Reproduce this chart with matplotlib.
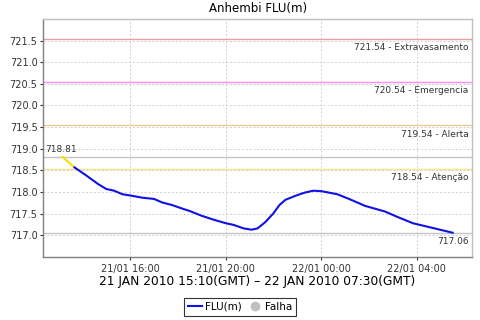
import matplotlib
matplotlib.use("Agg")
import matplotlib.pyplot as plt
import matplotlib.dates as mdates
from matplotlib.lines import Line2D
from datetime import datetime, timedelta

times = ["21/01 13:10", "21/01 13:40", "21/01 14:10", "21/01 14:40", "21/01 15:00",
         "21/01 15:20", "21/01 15:40", "21/01 16:00", "21/01 16:30", "21/01 17:00",
         "21/01 17:20", "21/01 17:45", "21/01 18:10", "21/01 18:30", "21/01 19:00",
         "21/01 19:30", "21/01 20:00", "21/01 20:20", "21/01 20:45", "21/01 21:05",
         "21/01 21:20", "21/01 21:40", "21/01 22:00", "21/01 22:15", "21/01 22:30",
         "21/01 23:00", "21/01 23:20", "21/01 23:40", "22/01 00:00", "22/01 00:40",
         "22/01 01:10", "22/01 01:50", "22/01 02:40", "22/01 03:10", "22/01 03:50",
         "22/01 04:40", "22/01 05:30"]
values = [718.81, 718.57, 718.38, 718.18, 718.07,
          718.03, 717.95, 717.92, 717.87, 717.84,
          717.76, 717.70, 717.62, 717.56, 717.45,
          717.36, 717.28, 717.24, 717.16, 717.13,
          717.16, 717.31, 717.51, 717.70, 717.82,
          717.93, 717.99, 718.03, 718.02, 717.95,
          717.84, 717.68, 717.55, 717.43, 717.28,
          717.17, 717.06]
threshold_values = [721.54, 720.54, 719.54, 718.54]
threshold_names = ["Extravasamento", "Emergencia", "Alerta", "Atenção"]
threshold_colors = ["#f39a9a", "#ff8cff", "#f7c896", "#f7e58a"]
yticks = [717.0, 717.5, 718.0, 718.5, 719.0, 719.5, 720.0, 720.5, 721.0, 721.5]

dts = [datetime.strptime("2010/" + t, "%Y/%d/%m %H:%M") for t in times]

fig = plt.figure(figsize=(4.8, 3.2), dpi=100)
ax = fig.add_axes([0.0896, 0.197, 0.894, 0.744])

# thresholds
for v, n, c in zip(threshold_values, threshold_names, threshold_colors):
    ax.axhline(v, color=c, lw=1.0, zorder=2)
    ax.annotate(f"{v:.2f} - {n}", xy=(0.992, v), xycoords=("axes fraction", "data"),
                xytext=(0, -3), textcoords="offset points", ha="right", va="top",
                fontsize=6.5, color="#333333")

# first / last value lines
ax.axhline(values[0], color="#c4c4c4", lw=1.0, zorder=2)
ax.axhline(values[-1], color="#c4c4c4", lw=1.0, zorder=2)
ax.annotate(f"{values[0]:.2f}", xy=(0.006, values[0]), xycoords=("axes fraction", "data"),
            xytext=(0, 2), textcoords="offset points", ha="left", va="bottom",
            fontsize=6.5, color="#333333")
ax.annotate(f"{values[-1]:.2f}", xy=(0.992, values[-1]), xycoords=("axes fraction", "data"),
            xytext=(0, -3), textcoords="offset points", ha="right", va="top",
            fontsize=6.5, color="#333333")

# data line: yellow above attention level, blue otherwise
ax.plot(dts[:2], values[:2], color="#f5e100", lw=1.5, zorder=3)
ax.plot(dts[1:], values[1:], color="#1010e8", lw=1.5, zorder=3)

span = dts[-1] - dts[0]
ax.set_xlim(dts[0] - span * 0.05, dts[-1] + span * 0.05)
ax.set_ylim(716.5, 722.0)
ax.set_yticks(yticks)
ax.set_yticklabels([f"{v:.1f}" for v in yticks])
ax.xaxis.set_major_locator(mdates.HourLocator(byhour=[0, 4, 8, 12, 16, 20]))
ax.xaxis.set_major_formatter(mdates.DateFormatter("%d/%m %H:%M"))

ax.grid(True, color="#d0d0d0", ls=(0, (2, 2)), lw=0.7)
ax.set_axisbelow(True)
ax.tick_params(labelsize=7, colors="#333333", length=2, width=0.8, pad=2)
ax.tick_params(axis="x", pad=3)
for s in ["left", "bottom"]:
    ax.spines[s].set_color("#808080")
    ax.spines[s].set_linewidth(1.0)
for s in ["top", "right"]:
    ax.spines[s].set_color("#c0c0c0")
    ax.spines[s].set_linewidth(1.0)

ax.set_title("Anhembi FLU(m)", fontsize=8.5, pad=5)
ax.set_xlabel("21 JAN 2010 15:10(GMT) – 22 JAN 2010 07:30(GMT)", fontsize=8.8, labelpad=1)

handles = [Line2D([], [], color="#1010e8", lw=1.5),
           Line2D([], [], color="#c0c0c0", marker="o", ls="", ms=6)]
leg = fig.legend(handles, ["FLU(m)", "Falha"], loc="lower center", bbox_to_anchor=(0.5, 0.012),
                 ncol=2, fontsize=7.5, frameon=True, fancybox=False, handlelength=1.3,
                 handletextpad=0.3, columnspacing=0.6, borderpad=0.4, borderaxespad=0.0)
leg.get_frame().set_edgecolor("black")
leg.get_frame().set_linewidth(0.8)

fig.savefig("out.png", dpi=100)
